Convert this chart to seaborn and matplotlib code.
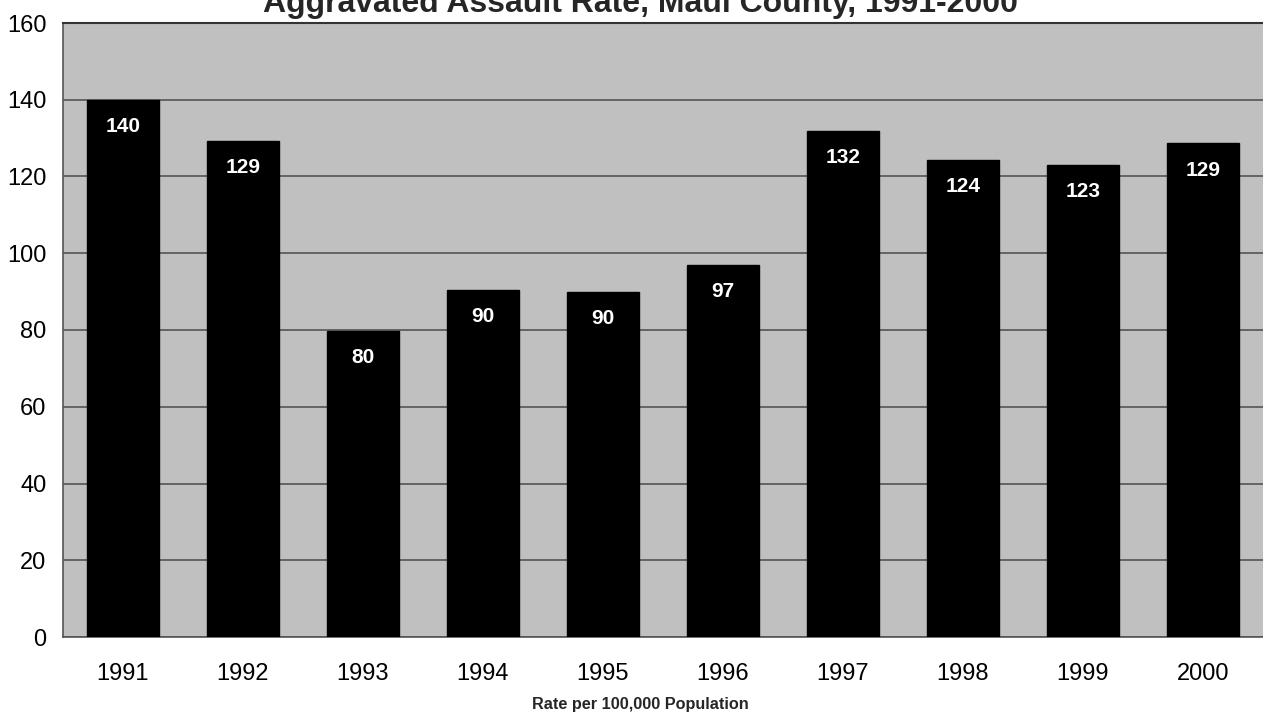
import matplotlib
matplotlib.use("Agg")
import matplotlib.pyplot as plt
import seaborn as sns
import pandas as pd

years = ["1991", "1992", "1993", "1994", "1995", "1996", "1997", "1998", "1999", "2000"]
rates = [140.0, 129.2, 79.7, 90.4, 89.9, 96.9, 131.9, 124.4, 123.0, 128.6]

df = pd.DataFrame({"year": years, "rate": rates})

sns.set_style("white")
plt.rcParams["font.family"] = ["Liberation Sans", "DejaVu Sans"]

fig = plt.figure(figsize=(12.63, 7.17), dpi=100)
ax = fig.add_axes([63 / 1263, 1 - 637 / 717, 1200 / 1263, 614 / 717])
ax.set_facecolor("#c0c0c0")

sns.barplot(data=df, x="year", y="rate", color="black", width=0.6,
            saturation=1, edgecolor="black", ax=ax, zorder=3)

ax.set_ylim(0, 160)
ax.set_yticks(range(0, 161, 20))
ax.yaxis.grid(True, color="#555555", linewidth=1.2, zorder=0)
ax.set_axisbelow(True)
ax.set_xlim(-0.5, 9.5)

for s in ["left", "bottom"]:
    ax.spines[s].set_color("#555555")
    ax.spines[s].set_linewidth(1.2)
ax.spines["top"].set_color("#333333")
ax.spines["top"].set_linewidth(1.5)
ax.spines["right"].set_visible(False)

ax.tick_params(axis="both", length=0, labelsize=17, colors="black")
ax.tick_params(axis="x", pad=19)
ax.tick_params(axis="y", pad=12)
ax.set_xlabel("")
ax.set_ylabel("")

labels = [f"{round(v):d}" for v in rates]
ax.bar_label(ax.containers[0], labels=labels, padding=-26, color="white",
             fontsize=15, fontweight="bold")

fig.text(0.507, 1 - 12 / 717, "Aggravated Assault Rate, Maui County, 1991-2000",
         ha="center", va="baseline", fontsize=23, fontweight="bold")
fig.text(0.507, 1 - 705 / 717, "Rate per 100,000 Population",
         ha="center", va="center", fontsize=11.7, fontweight="bold")

fig.savefig("out.png", dpi=100)
